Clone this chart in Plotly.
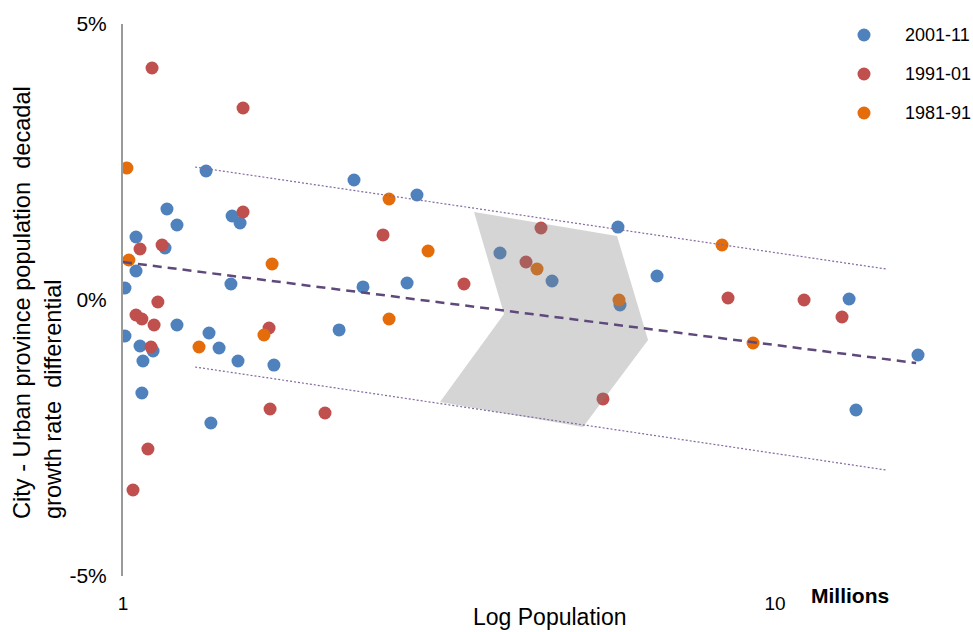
import plotly.graph_objects as go

# ---- data (population in millions, growth-rate differential in %) ----
pop_2001_11 = [1.341, 1.168, 1.210, 1.470, 1.512, 1.047, 1.160, 1.047, 1.007, 1.464,
               1.210, 1.007, 1.355, 1.062, 1.112, 1.404, 1.073, 1.501, 1.704, 1.069,
               1.364, 2.261, 2.824, 2.334, 2.727, 2.145, 3.786, 4.550, 5.743, 6.592,
               5.784, 12.99, 16.57, 13.31]
diff_2001_11 = [2.337, 1.649, 1.359, 1.522, 1.395, 1.141, 0.942, 0.525, 0.217, 0.290,
                -0.453, -0.652, -0.598, -0.833, -0.924, -0.870, -1.105, -1.105, -1.178, -1.685,
                -2.228, 2.174, 1.902, 0.236, 0.308, -0.543, 0.851, 0.344, 1.322, 0.435,
                -0.091, 0.018, -0.996, -1.993]

pop_1991_01 = [1.108, 1.528, 1.528, 1.062, 1.148, 1.131, 1.047, 1.069, 1.116, 1.675,
               1.104, 1.681, 1.092, 1.036, 2.505, 3.334, 2.041, 4.376, 4.150, 5.447,
               8.471, 11.08, 12.67]
diff_1991_01 = [4.203, 3.478, 1.594, 0.924, 0.996, -0.036, -0.272, -0.344, -0.453, -0.507,
                -0.851, -1.975, -2.699, -3.442, 1.178, 0.290, -2.047, 1.304, 0.688, -1.793,
                0.036, 0.0, -0.308]

pop_1981_91 = [1.014, 1.021, 1.693, 1.645, 1.308, 2.559, 2.937, 2.559, 4.315, 5.764,
               8.293, 9.254]
diff_1981_91 = [2.391, 0.725, 0.652, -0.634, -0.851, 1.830, 0.888, -0.344, 0.562, 0.0,
                0.996, -0.779]

# trend line and band (endpoints)
trend_pop = [1.0, 16.46]
trend_diff = [0.688, -1.141]
band_pop = [1.290, 14.80]
band_upper = [2.409, 0.562]
band_lower = [-1.214, -3.080]

# highlighted chevron region
region_pop = [3.454, 5.724, 6.387, 5.077, 3.063, 3.840, 3.454]
region_diff = [1.594, 1.159, -0.725, -2.301, -1.848, -0.254, 1.594]

series_names = ["2001-11", "1991-01", "1981-91"]
series_colors = ["#4F81BD", "#C0504D", "#E46C0A"]

x_tickvals = [1, 10]
x_ticktext = ["1", "10"]
y_tickvals = [-5, 0, 5]
y_ticktext = ["-5%", "0%", "5%"]

FONT = "Liberation Sans, Arial, sans-serif"

# plot-area geometry (pixels) used to place paper-referenced items
L, R, T, B = 123, 960, 24, 576
PW, PH = R - L, B - T


def px_x(p):
    return (p - L) / PW


def px_y(p):
    return (B - p) / PH


fig = go.Figure()

for name, color, xs, ys in zip(series_names, series_colors,
                               [pop_2001_11, pop_1991_01, pop_1981_91],
                               [diff_2001_11, diff_1991_01, diff_1981_91]):
    fig.add_trace(go.Scatter(
        x=xs, y=ys, mode="markers", name=name, showlegend=False,
        marker=dict(size=13, color=color, line=dict(width=0)),
        hoverinfo="skip",
    ))

fig.add_trace(go.Scatter(
    x=region_pop, y=region_diff, mode="lines", fill="toself",
    fillcolor="rgba(128,128,128,0.33)", line=dict(width=0),
    showlegend=False, hoverinfo="skip",
))

fig.add_trace(go.Scatter(
    x=trend_pop, y=trend_diff, mode="lines",
    line=dict(color="#5F497A", width=2.5, dash="9px,6px"),
    showlegend=False, hoverinfo="skip",
))
for yb in (band_upper, band_lower):
    fig.add_trace(go.Scatter(
        x=band_pop, y=yb, mode="lines",
        line=dict(color="#7F6A9F", width=1.2, dash="2px,2px"),
        showlegend=False, hoverinfo="skip",
    ))

# legend drawn by hand (symbol + label per series)
legend_shapes = []
legend_annots = []
for i, (name, color) in enumerate(zip(series_names, series_colors)):
    ypix = 35 + 39 * i
    legend_shapes.append(dict(
        type="circle", xref="paper", yref="paper",
        xsizemode="pixel", ysizemode="pixel",
        xanchor=px_x(864), yanchor=px_y(ypix),
        x0=-6.5, x1=6.5, y0=-6.5, y1=6.5,
        fillcolor=color, line=dict(width=0), layer="above",
    ))
    legend_annots.append(dict(
        text=name, x=px_x(903), y=px_y(ypix), xref="paper", yref="paper",
        showarrow=False, xanchor="left", yanchor="middle",
        font=dict(size=18, family=FONT, color="#000000"),
    ))

fig.update_layout(
    width=973, height=632,
    margin=dict(l=L, r=973 - R, t=T, b=632 - B),
    paper_bgcolor="white", plot_bgcolor="white",
    font=dict(family=FONT, color="#000000"),
    showlegend=False,
    xaxis=dict(
        type="log", range=[0, 1.2837],
        tickvals=x_tickvals, ticktext=x_ticktext,
        tickfont=dict(size=19, family=FONT, color="#000000"),
        showgrid=False, zeroline=False, showline=False, ticks="",
        ticklabelstandoff=14, automargin=False,
    ),
    yaxis=dict(
        range=[-5, 5],
        tickvals=y_tickvals, ticktext=y_ticktext,
        tickfont=dict(size=21, family=FONT, color="#000000"),
        showgrid=False, zeroline=False,
        showline=True, linecolor="#9A9A9A", linewidth=2,
        ticks="", ticklabelstandoff=10, automargin=False,
    ),
    shapes=legend_shapes,
    annotations=legend_annots + [
        dict(text="<b>Millions</b>", x=px_x(850), y=px_y(595),
             xref="paper", yref="paper", showarrow=False,
             font=dict(size=21, family=FONT, color="#000000"),
             xanchor="center", yanchor="middle"),
        dict(text="Log Population", x=px_x(549), y=px_y(617),
             xref="paper", yref="paper", showarrow=False,
             font=dict(size=23, family=FONT, color="#000000"),
             xanchor="center", yanchor="middle"),
        dict(text="City - Urban province population\u00a0 decadal<br>growth rate\u00a0 differential",
             x=px_x(37), y=px_y(303),
             xref="paper", yref="paper", showarrow=False, textangle=-90,
             align="left",
             font=dict(size=23.6, family=FONT, color="#000000"),
             xanchor="center", yanchor="middle"),
    ],
)

fig.write_html("out.html", config={"displayModeBar": False},
               post_script="document.body.style.margin='0';")
